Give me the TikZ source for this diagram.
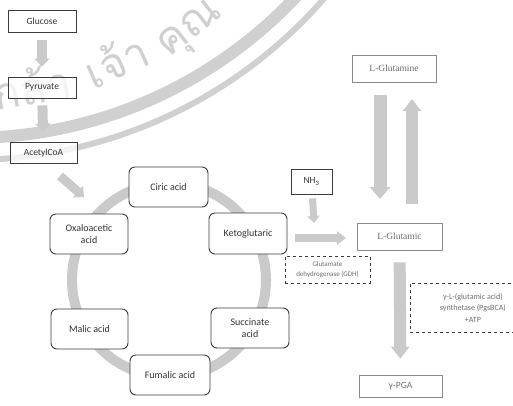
\documentclass[tikz,border=0pt]{standalone}
\usepackage{fontspec}
\setmainfont{Carlito}
\newfontfamily\serifbox{Liberation Serif}
\newfontfamily\thaiwm[Script=Thai]{Loma}
\usetikzlibrary{arrows.meta}
\definecolor{arrowgray}{HTML}{CACACA}
\definecolor{wmgray}{HTML}{D0D0D0}
\definecolor{boxline}{HTML}{3C3C3C}
\definecolor{lightline}{HTML}{8A8A8A}
\definecolor{lighttext}{HTML}{6E6E6E}
\begin{document}
\begin{tikzpicture}[x=1pt,y=-1pt,
  flowbox/.style={draw=boxline, line width=0.8pt, fill=white, fill opacity=0.75, text opacity=1, inner sep=0pt,
    font=\fontsize{9.5}{11}\selectfont, text=black!80},
  cycbox/.style={draw=boxline, line width=0.9pt, rounded corners=6pt, fill=white,
    inner sep=0pt, align=center, font=\fontsize{10}{12}\selectfont, text=black!80},
  lightbox/.style={draw=lightline, line width=0.7pt, fill=white, inner sep=0pt,
    font=\serifbox\fontsize{9.5}{11}\selectfont, text=lighttext},
  dashbox/.style={draw=boxline, line width=0.8pt, dashed, fill=white, inner sep=0pt,
    align=center, text=lighttext},
  fatarrow/.style={draw=arrowgray, line width=11pt, -{Triangle[length=10pt,width=19pt]}},
  thinarrow/.style={draw=arrowgray, line width=7pt, -{Triangle[length=7pt,width=12pt]}},
  wmtext/.style={text=wmgray, font=\thaiwm\fontsize{44}{44}\selectfont, inner sep=0pt}
]
\useasboundingbox (0,0) rectangle (513,405);
\clip (0,0) rectangle (513,405);
\fill[white] (0,0) rectangle (513,405);

% watermark
\draw[wmgray, line width=12pt] (-31,-311) circle (449);
\draw[wmgray, line width=6pt] (-31,-311) circle (471);
\node[wmtext, rotate=10] (wm1) at (32,86) {กล้า};
\node[wmtext, rotate=24] (wm2) at (116,60) {เจ้า};
\node[wmtext, rotate=38] (wm3) at (192,32) {คุณ};

% left column
\node[flowbox, minimum width=68pt, minimum height=22pt] (glucose) at (42,21) {Glucose};
\node[flowbox, minimum width=68pt, minimum height=21pt] (pyruvate) at (42,87.5) {Pyruvate};
\node[flowbox, minimum width=67pt, minimum height=21pt] (acetyl) at (43.5,152.5) {AcetylCoA};

\draw[fatarrow, line width=10pt, -{Triangle[length=8pt,width=15pt]}, shorten <=8pt, shorten >=10pt] (glucose) -- (pyruvate);
\draw[fatarrow, line width=10pt, -{Triangle[length=8pt,width=15pt]}, shorten <=7pt, shorten >=10pt] (pyruvate) -- (acetyl);

% TCA cycle ring
\coordinate (ringc) at (169,280);
\draw[arrowgray, line width=10pt] (ringc) circle (97);

\coordinate (accA) at (60,176);
\coordinate (accB) at (84,197);
\draw[thinarrow, line width=9pt, -{Triangle[length=8pt,width=15pt]}] (accA) -- (accB);

\node[cycbox, minimum width=79pt, minimum height=40pt] (citric) at (168.5,187) {Ciric acid};
\node[cycbox, minimum width=78pt, minimum height=40pt] (oxalo) at (89,234) {Oxaloacetic\\acid};
\node[cycbox, minimum width=78pt, minimum height=41pt] (keto) at (248,233.5) {Ketoglutaric};
\node[cycbox, minimum width=77pt, minimum height=40pt] (malic) at (89.5,329) {Malic acid};
\node[cycbox, minimum width=78pt, minimum height=40pt] (succ) at (250,328) {Succinate\\acid};
\node[cycbox, minimum width=80pt, minimum height=40pt] (fumalic) at (170,375) {Fumalic acid};

% right part
\node[lightbox, minimum width=84pt, minimum height=27pt] (glutamine) at (394,68.5) {L-Glutamine};
\node[lightbox, minimum width=85pt, minimum height=27pt] (glutamic) at (399.5,236.5) {L-Glutamic};
\node[flowbox, minimum width=41pt, minimum height=25pt] (nh3) at (311.5,181.5) {NH\textsubscript{3}};
\node[lightbox, minimum width=83pt, minimum height=22pt, font=\fontsize{9.5}{11}\selectfont] (pga) at (400.5,386) {γ-PGA};

\node[dashbox, minimum width=85pt, minimum height=27pt,
  font=\fontsize{7}{10}\selectfont] (gdh) at (327.5,269.5) {Glutamate\\dehydrogenase (GDH)};
\node[dashbox, anchor=north west, minimum width=125pt, minimum height=49pt,
  font=\fontsize{8}{11.5}\selectfont] (pgs) at (410,283)
  {γ-L-(glutamic acid)\\synthetase (PgsBCA)\\+ATP};

\coordinate (gmA) at (380,95);
\coordinate (gmB) at (380,199);
\coordinate (guA) at (412,204);
\coordinate (guB) at (412,99);
\draw[fatarrow, line width=13pt, -{Triangle[length=12pt,width=20pt]}] (gmA) -- (gmB);
\draw[fatarrow, line width=12pt, -{Triangle[length=12pt,width=18pt]}] (guA) -- (guB);

\coordinate (nhEnd) at (314,223);
\draw[thinarrow, shorten <=4pt] (nh3) -- (nhEnd);

\coordinate (kgEnd) at (346,238);
\draw[thinarrow, line width=8pt, -{Triangle[length=9pt,width=13pt]}, shorten <=8pt] (keto.east |- kgEnd) -- (kgEnd);

\draw[fatarrow, line width=12pt, -{Triangle[length=12pt,width=18pt]}, shorten <=12pt, shorten >=16pt] (glutamic) -- (pga);
\end{tikzpicture}
\end{document}
